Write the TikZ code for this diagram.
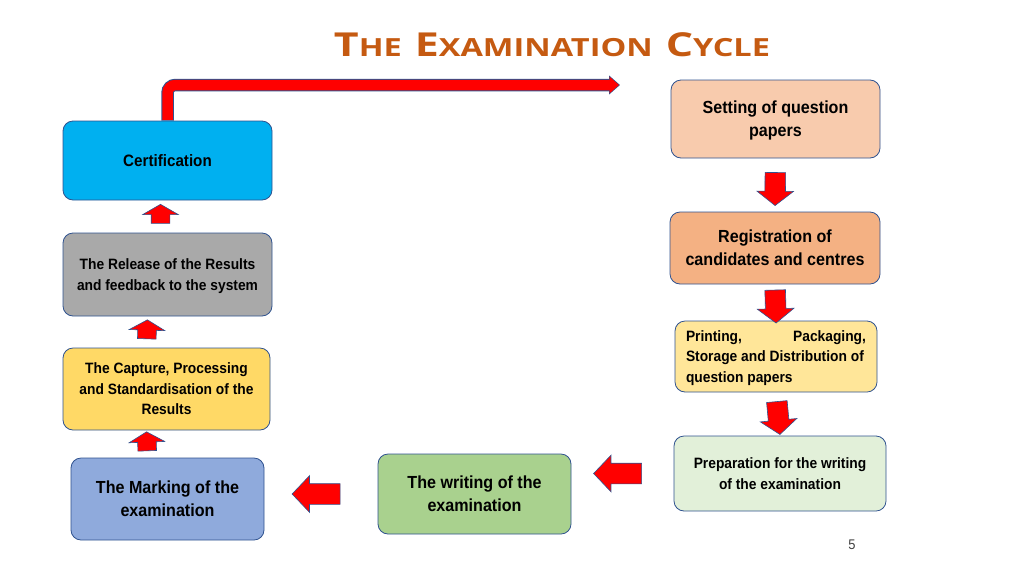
\documentclass[tikz,border=0pt]{standalone}
\usepackage{fontspec}
\setmainfont{Liberation Sans}[FakeStretch=0.92]
\newfontfamily\titlefont{Open Sans}[FakeStretch=1.3]
\usepackage{xcolor}
\usetikzlibrary{shapes.arrows,arrows.meta,calc}
\definecolor{titleorange}{HTML}{C55A11}
\definecolor{boxline}{HTML}{2F528F}
\definecolor{settingfill}{HTML}{F8CBAD}
\definecolor{regfill}{HTML}{F4B183}
\definecolor{printfill}{HTML}{FFE699}
\definecolor{prepfill}{HTML}{E2F0D9}
\definecolor{writefill}{HTML}{A9D18E}
\definecolor{markfill}{HTML}{8FAADC}
\definecolor{capfill}{HTML}{FFD966}
\definecolor{relfill}{HTML}{A9A9A9}
\definecolor{certfill}{HTML}{00B0F0}
\newcommand\titleword[2]{{\fontsize{33}{36}\selectfont #1}{\fontsize{25}{28}\selectfont #2}}

\begin{document}
\begin{tikzpicture}[
  x=1pt, y=-1pt,
  every node/.style={font=\bfseries},
  stage/.style={rectangle, draw=boxline, line width=0.8pt, rounded corners=10pt,
               align=center, inner sep=0pt, text depth=0pt},
  bigtxt/.style={font=\bfseries\fontsize{17.5}{23}\selectfont},
  smalltxt/.style={font=\bfseries\fontsize{15}{20.5}\selectfont},
  blockarr/.style={single arrow, fill=red, draw=boxline, line width=0.6pt,
               inner xsep=0pt, inner ysep=10pt, single arrow head extend=8pt,
               sloped, allow upside down, anchor=center},
  downarr/.style={blockarr, minimum height=33pt, single arrow tip angle=104},
  leftarr/.style={blockarr, minimum height=48pt, single arrow tip angle=93},
  uparr/.style={blockarr, minimum height=19pt, inner ysep=9pt,
               single arrow head extend=8.5pt, single arrow tip angle=120}
]
\useasboundingbox (0,0) rectangle (1024,576);

% title
\node (title) at (552,45) {\titlefont\color{titleorange}%
  \titleword{T}{HE}\hspace{13pt}\titleword{E}{XAMINATION}\hspace{13pt}\titleword{C}{YCLE}};

% right column, top to bottom
\node[stage, bigtxt, fill=settingfill, minimum width=209pt, minimum height=78pt]
  (setting) at (775.5,119) {Setting of question\\papers};
\node[stage, bigtxt, fill=regfill, minimum width=210pt, minimum height=72pt]
  (reg) at (775,248) {Registration of\\candidates and centres};
\node[stage, smalltxt, fill=printfill, minimum width=202pt, minimum height=71pt,
      align=left]
  (print) at (776,356.5) {\makebox[180pt][l]{Printing,\hfill Packaging,}\\
    Storage and Distribution of\\question papers};
\node[stage, smalltxt, fill=prepfill, minimum width=212pt, minimum height=75pt]
  (prep) at (780,473.5) {Preparation for the writing\\of the examination};

% bottom row
\node[stage, bigtxt, fill=writefill, minimum width=193pt, minimum height=80pt]
  (write) at (474.5,494) {The writing of the\\examination};
\node[stage, bigtxt, fill=markfill, minimum width=193pt, minimum height=82pt]
  (mark) at (167.5,499) {The Marking of the\\examination};

% left column, bottom to top
\node[stage, smalltxt, fill=capfill, minimum width=207pt, minimum height=82pt]
  (cap) at (166.5,389) {The Capture, Processing\\and Standardisation of the\\Results};
\node[stage, smalltxt, fill=relfill, minimum width=209pt, minimum height=83pt]
  (rel) at (167.5,274.5) {The Release of the Results\\and feedback to the system};
\node[stage, font=\bfseries\fontsize{16.5}{20}\selectfont, fill=certfill,
      minimum width=209pt, minimum height=79pt]
  (cert) at (167.5,160.5) {Certification};

% block arrows between the stages
\path (setting.south) -- node[downarr] (a1) {} (reg.north);
\path (reg.south) -- node[downarr] (a2) {} (print.north);
\path (print.south) -- node[downarr] (a3) {} (prep.north);
\path (prep.west) -- node[leftarr] (a4) {} (prep.west -| write.east);
\path (write.west) -- node[leftarr] (a5) {} (write.west -| mark.east);
\path ([xshift=-20pt]mark.north) -- node[uparr] (a6) {} ([xshift=-20pt]cap.south);
\path ([xshift=-20pt]cap.north) -- node[uparr] (a7) {} ([xshift=-20pt]rel.south);
\path ([xshift=-7pt]rel.north) -- node[uparr] (a8) {} ([xshift=-7pt]cert.south);

% back to the start
\coordinate (topend) at (620,85);
\draw[boxline, line width=12.5pt, rounded corners=8pt,
      -{Triangle[length=11pt,width=18.5pt]}] (cert.north) |- (topend);
\draw[red, line width=10.5pt, rounded corners=8pt,
      -{Triangle[length=9.5pt,width=16pt]}] ([yshift=0.8pt]cert.north) |- ([xshift=-1pt]topend);

% slide number
\node[font=\fontsize{14}{16}\selectfont, text=black!75] (pagenum) at (852,545) {5};
\end{tikzpicture}
\end{document}
